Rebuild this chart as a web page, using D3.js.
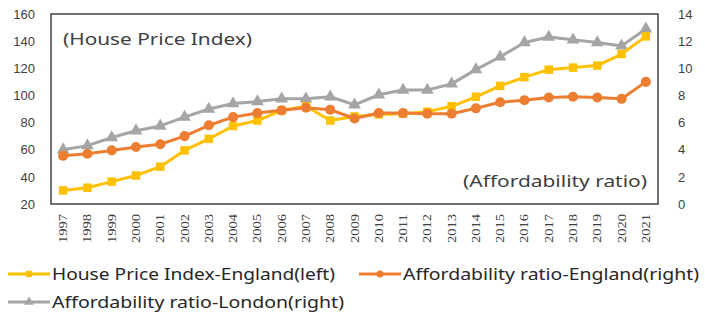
<!DOCTYPE html>
<meta charset='utf-8'>
<html>
<head>
    <script src='https://d3js.org/d3.v7.min.js'></script>
    <style>
        html, body { margin: 0; padding: 0; background: #fff; }
        svg { display: block; }
    </style>
</head>
<body>
<script>
    // data
    const years = ['1997', '1998', '1999', '2000', '2001', '2002', '2003', '2004', '2005', '2006', '2007', '2008', '2009',
        '2010', '2011', '2012', '2013', '2014', '2015', '2016', '2017', '2018', '2019', '2020', '2021'];
    const hpiEngland = [30, 32, 36.5, 41, 47.5, 59.5, 68, 77.5, 81.5, 89, 92, 81.5, 84.5,
        86, 86.5, 88, 92, 99, 107, 113.5, 119, 120.5, 122, 130.5, 143.5];
    const affEngland = [3.55, 3.7, 3.95, 4.2, 4.4, 5.0, 5.8, 6.4, 6.7, 6.9, 7.1, 6.95, 6.3,
        6.7, 6.7, 6.65, 6.65, 7.05, 7.5, 7.65, 7.85, 7.9, 7.85, 7.75, 9.0];
    const affLondon = [4.0, 4.3, 4.9, 5.4, 5.75, 6.4, 7.0, 7.4, 7.55, 7.75, 7.75, 7.9, 7.3,
        8.05, 8.4, 8.4, 8.85, 9.9, 10.85, 11.9, 12.3, 12.1, 11.9, 11.65, 12.9];
    const leftTicks = [20, 40, 60, 80, 100, 120, 140, 160];
    const rightTicks = [0, 2, 4, 6, 8, 10, 12, 14];

    const width = 705;
    const height = 322;
    const plotLeft = 51;
    const plotRight = 658;
    const plotTop = 14;
    const plotBottom = 204;

    const svg = d3.select('body')
        .append('svg')
        .attr('width', width)
        .attr('height', height)
        .style('font-family', "'Noto Sans', 'Open Sans', sans-serif");

    const x = d3.scaleBand()
        .domain(years)
        .range([plotLeft, plotRight]);

    const yLeft = d3.scaleLinear()
        .domain([20, 160])
        .range([plotBottom, plotTop]);

    const yRight = d3.scaleLinear()
        .domain([0, 14])
        .range([plotBottom, plotTop]);

    const cx = d => x(d) + x.bandwidth() / 2;

    // plot frame
    svg.append('rect')
        .attr('x', plotLeft)
        .attr('y', plotTop)
        .attr('width', plotRight - plotLeft)
        .attr('height', plotBottom - plotTop)
        .attr('fill', 'none')
        .attr('stroke', '#262626')
        .attr('stroke-width', 1.3);

    // left axis
    const leftAxis = svg.append('g')
        .attr('transform', 'translate(' + plotLeft + ',0)')
        .call(d3.axisLeft(yLeft).tickValues(leftTicks).tickSize(0).tickPadding(16));
    leftAxis.select('.domain').remove();
    leftAxis.selectAll('text')
        .style('font-size', '13px')
        .style('fill', '#404040');

    // right axis
    const rightAxis = svg.append('g')
        .attr('transform', 'translate(' + plotRight + ',0)')
        .call(d3.axisRight(yRight).tickValues(rightTicks).tickSize(0).tickPadding(20));
    rightAxis.select('.domain').remove();
    rightAxis.selectAll('text')
        .style('font-size', '13px')
        .style('fill', '#404040');

    // year labels, rotated
    svg.append('g')
        .selectAll('text')
        .data(years)
        .enter()
        .append('text')
        .attr('transform', d => 'translate(' + (cx(d) + 4) + ',' + 243 + ') rotate(-90)')
        .attr('textLength', 29)
        .attr('lengthAdjust', 'spacingAndGlyphs')
        .style('font-family', "'Liberation Serif', serif")
        .style('font-size', '12px')
        .style('fill', '#404040')
        .text(d => d);

    // annotations
    svg.append('text')
        .attr('x', 63)
        .attr('y', 45)
        .attr('textLength', 189)
        .attr('lengthAdjust', 'spacingAndGlyphs')
        .style('font-size', '17px')
        .style('fill', '#404040')
        .text('(House Price Index)');

    svg.append('text')
        .attr('x', 463)
        .attr('y', 187)
        .attr('textLength', 184)
        .attr('lengthAdjust', 'spacingAndGlyphs')
        .style('font-size', '17px')
        .style('fill', '#404040')
        .text('(Affordability ratio)');

    const series = [
        { name: 'House Price Index-England(left)', values: hpiEngland, scale: yLeft, color: '#FFC000', marker: 'square' },
        { name: 'Affordability ratio-England(right)', values: affEngland, scale: yRight, color: '#ED7D31', marker: 'circle' },
        { name: 'Affordability ratio-London(right)', values: affLondon, scale: yRight, color: '#A5A5A5', marker: 'triangle' }
    ];

    const symbolFor = {
        square: d3.symbol().type(d3.symbolSquare).size(72),
        circle: d3.symbol().type(d3.symbolCircle).size(80),
        triangle: d3.symbol().type(d3.symbolTriangle).size(70)
    };

    // draw London first so England lines sit on top like the reference
    const drawOrder = [series[2], series[0], series[1]];
    drawOrder.forEach(function (s) {
        const line = d3.line()
            .x((d, i) => cx(years[i]))
            .y(d => s.scale(d));

        svg.append('path')
            .datum(s.values)
            .attr('d', line)
            .attr('fill', 'none')
            .attr('stroke', s.color)
            .attr('stroke-width', 3)
            .attr('stroke-linejoin', 'round');

        svg.append('g')
            .selectAll('path')
            .data(s.values)
            .enter()
            .append('path')
            .attr('d', symbolFor[s.marker])
            .attr('transform', (d, i) => 'translate(' + cx(years[i]) + ',' + s.scale(d) + ')')
            .attr('fill', s.color);
    });

    // legend
    const legendItems = [
        { s: series[0], x: 8, y: 274, textLength: 283 },
        { s: series[1], x: 359, y: 274, textLength: 296 },
        { s: series[2], x: 8, y: 302, textLength: 292 }
    ];

    legendItems.forEach(function (item) {
        const g = svg.append('g');
        g.append('line')
            .attr('x1', item.x)
            .attr('x2', item.x + 42)
            .attr('y1', item.y)
            .attr('y2', item.y)
            .attr('stroke', item.s.color)
            .attr('stroke-width', 3);
        g.append('path')
            .attr('d', d3.symbol().type(item.s.marker === 'square' ? d3.symbolSquare
                : item.s.marker === 'circle' ? d3.symbolCircle : d3.symbolTriangle).size(40))
            .attr('transform', 'translate(' + (item.x + 21) + ',' + item.y + ')')
            .attr('fill', item.s.color);
        g.append('text')
            .attr('x', item.x + 44)
            .attr('y', item.y + 6)
            .attr('textLength', item.textLength)
            .attr('lengthAdjust', 'spacingAndGlyphs')
            .style('font-size', '16px')
            .style('fill', '#262626')
            .text(item.s.name);
    });
</script>
</body>
</html>
